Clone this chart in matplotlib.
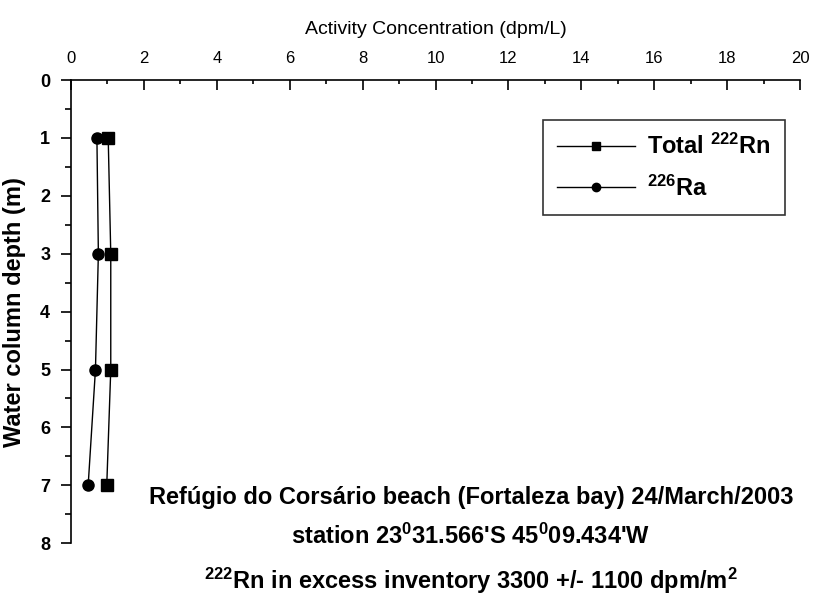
#!/usr/bin/env python

# import all necessary modules
import matplotlib
matplotlib.use("Agg")
import matplotlib.pyplot as plt
from matplotlib.ticker import MultipleLocator

plt.rcParams['font.family'] = ['Liberation Sans', 'DejaVu Sans']
plt.rcParams['mathtext.default'] = 'regular'

# data
depth = [1, 3, 5, 7]
total_rn = [1.02, 1.09, 1.09, 0.98]
ra226 = [0.71, 0.75, 0.67, 0.47]

notes = [
    "Refúgio do Corsário beach (Fortaleza bay) 24/March/2003",
    "station 23$^{0}$31.566'S 45$^{0}$09.434'W",
    "$^{222}$Rn in excess inventory 3300 +/- 1100 dpm/m$^{2}$",
]

fig = plt.figure(figsize=(8.26, 6.11), dpi=100)
ax = fig.add_axes([0.086, 0.111, 0.8825, 0.758])

ax.plot(total_rn, depth, color='black', lw=1, marker='s', ms=8,
        label="Total $^{222}$Rn")
ax.plot(ra226, depth, color='black', lw=1, marker='o', ms=8,
        label="$^{226}$Ra")

ax.set_xlim(0, 20)
ax.set_ylim(8, 0)

# x axis on top, ticks pointing in
ax.xaxis.set_ticks_position('top')
ax.xaxis.set_label_position('top')
ax.xaxis.set_major_locator(MultipleLocator(2))
ax.xaxis.set_minor_locator(MultipleLocator(1))
ax.tick_params(axis='x', which='major', direction='in', length=7, width=1.2,
               labelsize=12, pad=10)
ax.tick_params(axis='x', which='minor', direction='in', length=3, width=1.2)

ax.yaxis.set_major_locator(MultipleLocator(1))
ax.yaxis.set_minor_locator(MultipleLocator(0.5))
ax.tick_params(axis='y', which='major', direction='out', length=7, width=1.2,
               labelsize=13, pad=8)
ax.tick_params(axis='y', which='minor', direction='out', length=4, width=1.2)
for lab in ax.get_yticklabels():
    lab.set_fontweight('bold')

ax.spines['bottom'].set_visible(False)
ax.spines['right'].set_visible(False)
ax.spines['top'].set_linewidth(1.2)
ax.spines['left'].set_linewidth(1.2)

ax.set_xlabel('Activity Concentration (dpm/L)', fontsize=14, labelpad=12)
ax.set_ylabel('Water column depth (m)', fontsize=17, fontweight='bold', labelpad=10)

leg = ax.legend(loc='upper right', bbox_to_anchor=(0.995, 0.94),
                prop={'weight': 'bold', 'size': 17}, fancybox=False,
                edgecolor='black', handlelength=3.3, handletextpad=0.5,
                borderpad=0.6, labelspacing=0.7, markerscale=0.75)
leg.get_frame().set_linewidth(1.2)

# annotation lines under the profile
ypos = [0.185, 0.122, 0.05]
for txt, yy in zip(notes, ypos):
    fig.text(0.57, yy, txt, ha='center', va='center', fontsize=17,
             fontweight='bold')

plt.savefig('out.png', dpi=100)
